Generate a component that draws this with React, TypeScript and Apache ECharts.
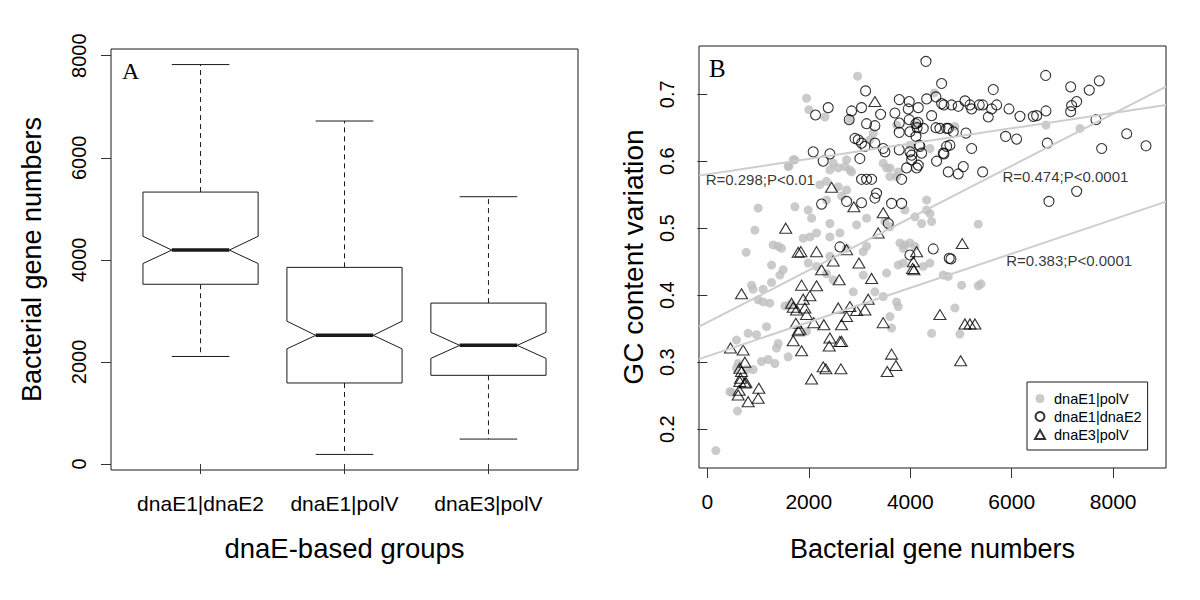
import React, { useEffect, useRef } from "react";
import * as echarts from "echarts";

// ---------- Panel A: notched box plot ----------
const groups = ["dnaE1|dnaE2", "dnaE1|polV", "dnaE3|polV"];
const whiskerLow = [2107, 188, 489];
const q1 = [3522, 1588, 1738];
const notchLow = [3928, 2257, 2069];
const median = [4191, 2521, 2325];
const notchHigh = [4462, 2799, 2581];
const q3 = [5328, 3853, 3153];
const whiskerHigh = [7826, 6720, 5237];
const boxTicks = [0, 2000, 4000, 6000, 8000];

// ---------- Panel B: scatter ----------
const polV: number[][] = [
  [2962, 0.727], [1956, 0.694], [2002, 0.677], [2317, 0.666], [2810, 0.662], [4473, 0.702], [4125, 0.654],
  [3731, 0.654], [3270, 0.642], [3204, 0.632], [3993, 0.624], [4388, 0.619],
  [1725, 0.602], [1607, 0.593], [1693, 0.602], [1594, 0.592], [2481, 0.597], [2580, 0.590], [2712, 0.592],
  [2810, 0.587], [2416, 0.587], [2745, 0.602], [2843, 0.584], [3467, 0.597], [3534, 0.590], [3600, 0.590],
  [3731, 0.577], [3599, 0.577], [3763, 0.584],
  [2218, 0.565], [2350, 0.570], [2580, 0.562], [2745, 0.557], [2650, 0.548],
  [4881, 0.652], [6675, 0.654], [7346, 0.649],
  [1002, 0.530], [1726, 0.532], [1988, 0.527], [2055, 0.515], [2350, 0.542], [2416, 0.507], [3139, 0.515],
  [2942, 0.505], [3895, 0.527], [4092, 0.517], [4323, 0.527], [4388, 0.522], [4224, 0.507], [4421, 0.510],
  [4323, 0.542], [3500, 0.510], [3599, 0.502], [5340, 0.506],
  [937, 0.497], [1397, 0.473], [1463, 0.470], [1298, 0.475], [1890, 0.485], [2022, 0.487], [2153, 0.493],
  [2416, 0.487], [2613, 0.493], [3139, 0.473], [3073, 0.465], [3797, 0.478], [3895, 0.475], [3993, 0.478],
  [4092, 0.473], [3862, 0.470], [2745, 0.470],
  [766, 0.464], [1266, 0.445], [1495, 0.438], [1988, 0.448], [2153, 0.443], [2416, 0.458], [3763, 0.445],
  [3862, 0.448], [4388, 0.448], [4256, 0.443], [4650, 0.430], [4749, 0.428], [3534, 0.433], [3073, 0.430],
  [5013, 0.415], [5340, 0.414], [5394, 0.417], [4881, 0.381], [4979, 0.342],
  [1430, 0.430], [2350, 0.432], [2481, 0.423], [2876, 0.405], [3303, 0.405], [3467, 0.398], [3731, 0.390],
  [3763, 0.383], [3599, 0.368], [3632, 0.351], [4421, 0.343],
  [872, 0.415], [903, 0.409], [1002, 0.393], [1100, 0.390], [1232, 0.388], [1100, 0.409], [1266, 0.419],
  [1528, 0.384], [1626, 0.386], [1167, 0.353], [805, 0.343], [970, 0.341], [576, 0.333], [1397, 0.328],
  [1364, 0.321], [1594, 0.308], [1331, 0.298], [1200, 0.304], [1069, 0.301], [1956, 0.346], [607, 0.298],
  [576, 0.291], [773, 0.289], [903, 0.289], [444, 0.256], [595, 0.227], [168, 0.168], [477, 0.255],
];

const dnaE2: number[][] = [
  [4309, 0.749], [3120, 0.705], [2383, 0.680], [2133, 0.669], [2843, 0.675], [3040, 0.680], [3415, 0.670],
  [3783, 0.692], [3980, 0.689], [4158, 0.680], [4323, 0.693], [4506, 0.696], [4618, 0.716], [4664, 0.684],
  [3697, 0.672], [3960, 0.678], [2797, 0.662], [3139, 0.656], [3303, 0.653], [3783, 0.657], [3980, 0.662],
  [4110, 0.656], [4135, 0.650], [4150, 0.658], [4256, 0.649], [4421, 0.668], [4506, 0.650], [4585, 0.649],
  [4717, 0.649], [3783, 0.643], [4112, 0.637], [3993, 0.644], [2910, 0.634], [2975, 0.632], [3040, 0.627],
  [3106, 0.622], [3303, 0.627], [3467, 0.619], [3501, 0.614], [4177, 0.624], [2087, 0.614], [2416, 0.611],
  [2284, 0.600], [3007, 0.604], [3783, 0.617], [3993, 0.614], [4027, 0.609], [4190, 0.622], [4224, 0.612],
  [4650, 0.612], [4717, 0.622], [4027, 0.602], [3928, 0.590], [4158, 0.594], [4125, 0.590], [4519, 0.600],
  [4749, 0.584], [3040, 0.573], [3139, 0.573], [3238, 0.573], [3830, 0.573], [3336, 0.552], [3303, 0.545],
  [2252, 0.536], [2745, 0.540], [3040, 0.538], [3632, 0.537], [3830, 0.537], [3566, 0.507], [2613, 0.472],
  [3993, 0.460], [4453, 0.469], [4769, 0.455], [4802, 0.454],
  [4618, 0.686], [4815, 0.684], [4946, 0.682], [5078, 0.690], [5177, 0.684], [5210, 0.678], [5360, 0.684],
  [5427, 0.684], [5604, 0.678], [5703, 0.684], [5538, 0.666], [5636, 0.707], [5946, 0.678], [6163, 0.667],
  [6425, 0.667], [6491, 0.668], [6675, 0.675], [6669, 0.728], [7162, 0.711], [7529, 0.706], [7726, 0.720],
  [7280, 0.689], [7181, 0.683], [7162, 0.674], [7661, 0.662], [8266, 0.641], [7773, 0.619], [8647, 0.623],
  [6701, 0.627], [5880, 0.637], [6097, 0.633], [4749, 0.649], [4848, 0.644], [5098, 0.642], [4782, 0.624],
  [4664, 0.611], [5210, 0.619], [4946, 0.581], [5045, 0.592], [5427, 0.584], [7280, 0.555], [6734, 0.540],
];

const dnaE3: number[][] = [
  [3303, 0.689], [2449, 0.561], [2889, 0.532], [3467, 0.523], [1545, 0.500], [3368, 0.493], [1791, 0.464],
  [1844, 0.465], [2153, 0.465], [2745, 0.468], [2481, 0.451], [2988, 0.448], [2252, 0.438], [2599, 0.423],
  [3238, 0.425], [1858, 0.415], [2153, 0.414], [2022, 0.399], [1890, 0.394], [674, 0.402], [1660, 0.388],
  [1693, 0.382], [1759, 0.378], [1923, 0.381], [1956, 0.371], [2580, 0.381], [2810, 0.383], [2942, 0.377],
  [3106, 0.378], [3171, 0.394], [2745, 0.368], [2646, 0.356], [2297, 0.356], [2100, 0.359], [3467, 0.359],
  [1745, 0.358], [1824, 0.349], [1791, 0.347], [1693, 0.332], [1858, 0.317], [2416, 0.336], [2403, 0.324],
  [2613, 0.331], [2646, 0.331], [2284, 0.293], [2337, 0.290], [2633, 0.290], [2055, 0.275], [3632, 0.312],
  [3717, 0.295], [3546, 0.286], [4125, 0.465], [4060, 0.450], [4047, 0.440], [4073, 0.438], [4585, 0.371],
  [5025, 0.477], [5078, 0.357], [5177, 0.357], [5275, 0.357], [4993, 0.302], [457, 0.321], [706, 0.318],
  [740, 0.300], [641, 0.291], [674, 0.286], [654, 0.276], [759, 0.270], [627, 0.258], [608, 0.251],
  [1016, 0.261], [1002, 0.246], [805, 0.241], [740, 0.269], [641, 0.271],
];

const xTicksB = [0, 2000, 4000, 6000, 8000];
const yTicksB = [0.2, 0.3, 0.4, 0.5, 0.6, 0.7];

// regression lines (endpoints at the plot's x limits)
const fitX = [-164, 9041];
const fitE2 = [0.5785, 0.684];
const fitPolV = [0.353, 0.7113];
const fitE3 = [0.3045, 0.5397];

const annotations = [
  { name: "R=0.298;P<0.01", value: [1044, 0.572] },
  { name: "R=0.474;P<0.0001", value: [7057, 0.577] },
  { name: "R=0.383;P<0.0001", value: [7131, 0.4512] },
];

const SANS = '"Liberation Sans", Arial, Helvetica, sans-serif';
const SERIF = '"Liberation Serif", "Times New Roman", serif';

export default function App() {
  const ref = useRef<HTMLDivElement>(null);

  useEffect(() => {
    document.body.style.margin = "0";
    const chart = echarts.init(ref.current!, null, { renderer: "svg" });

    const boxData = groups.map((_, i) => [
      i + 1, whiskerLow[i], q1[i], notchLow[i], median[i], notchHigh[i], q3[i], whiskerHigh[i],
    ]);
    const BW = 0.4;
    const NW = 0.2;
    const stroke = "#1a1a1a";

    const fitLine = (ys: number[]) => ({
      type: "line",
      xAxisIndex: 1,
      yAxisIndex: 1,
      data: fitX.map((x, i) => [x, ys[i]]),
      symbol: "none",
      silent: true,
      lineStyle: { color: "#cdcdcd", width: 2 },
      z: 5,
    });

    const tickStyle = { lineStyle: { color: "#333", width: 1 } };
    const plain = (v: number) => String(v);

    chart.setOption({
      animation: false,
      textStyle: { fontFamily: SANS },
      grid: [
        { left: 111, top: 49, width: 467, height: 421, show: true, borderColor: stroke, borderWidth: 1, backgroundColor: "transparent" },
        { left: 699, top: 46, width: 467, height: 422, show: true, borderColor: stroke, borderWidth: 1, backgroundColor: "transparent" },
      ],
      xAxis: [
        {
          gridIndex: 0, type: "value", min: 0.378, max: 3.622,
          axisLine: { show: false }, splitLine: { show: false },
          axisTick: { show: true, length: 10, customValues: [1, 2, 3], ...tickStyle },
          axisLabel: {
            customValues: [1, 2, 3], margin: 23, fontSize: 21, color: "#000", fontFamily: SANS,
            formatter: (v: number) => groups[Math.round(v) - 1] ?? "",
          },
          name: "dnaE-based groups", nameLocation: "middle", nameGap: 64,
          nameTextStyle: { fontSize: 27.5, color: "#000", fontFamily: SANS },
        },
        {
          gridIndex: 1, type: "value", min: -164, max: 9041,
          axisLine: { show: false }, splitLine: { show: false },
          axisTick: { show: true, length: 10, customValues: xTicksB, ...tickStyle },
          axisLabel: { customValues: xTicksB, margin: 23, fontSize: 21, color: "#000", fontFamily: SANS, formatter: plain },
          name: "Bacterial gene numbers", nameLocation: "middle", nameGap: 67,
          nameTextStyle: { fontSize: 27, color: "#000", fontFamily: SANS },
        },
      ],
      yAxis: [
        {
          gridIndex: 0, type: "value", min: -117, max: 8131,
          axisLine: { show: false }, splitLine: { show: false },
          axisTick: { show: true, length: 10, customValues: boxTicks, ...tickStyle },
          axisLabel: { customValues: boxTicks, rotate: 90, margin: 22, fontSize: 20, color: "#000", fontFamily: SANS, formatter: plain },
          name: "Bacterial gene numbers", nameLocation: "middle", nameGap: 66, nameRotate: 90,
          nameTextStyle: { fontSize: 27, color: "#000", fontFamily: SANS },
        },
        {
          gridIndex: 1, type: "value", min: 0.142, max: 0.772,
          axisLine: { show: false }, splitLine: { show: false },
          axisTick: { show: true, length: 10, customValues: yTicksB, ...tickStyle },
          axisLabel: {
            customValues: yTicksB, rotate: 90, margin: 22, fontSize: 20, color: "#000", fontFamily: SANS,
            formatter: (v: number) => v.toFixed(1),
          },
          name: "GC content variation", nameLocation: "middle", nameGap: 52, nameRotate: 90,
          nameTextStyle: { fontSize: 28, color: "#000", fontFamily: SANS },
        },
      ],
      legend: {
        orient: "vertical",
        left: 1027,
        top: 382,
        padding: [9, 6, 8, 7],
        itemGap: 3,
        itemWidth: 10,
        itemHeight: 9,
        borderColor: stroke,
        borderWidth: 1,
        backgroundColor: "#fff",
        textStyle: { fontSize: 14.5, color: "#000", fontFamily: SANS, padding: [0, 0, 0, 4] },
        data: ["dnaE1|polV", "dnaE1|dnaE2", "dnaE3|polV"],
      },
      graphic: [
        { type: "text", left: 122, top: 59, style: { text: "A", font: `24px ${SERIF}`, fill: "#000" } },
        { type: "text", left: 709, top: 56, style: { text: "B", font: `25px ${SERIF}`, fill: "#000" } },
      ],
      series: [
        {
          type: "custom",
          xAxisIndex: 0,
          yAxisIndex: 0,
          data: boxData,
          encode: { x: 0, y: [1, 2, 3, 4, 5, 6, 7] },
          silent: true,
          renderItem: (_params: any, api: any) => {
            const x = api.value(0);
            const wl = api.value(1), a = api.value(2), nl = api.value(3), md = api.value(4);
            const nh = api.value(5), b = api.value(6), wh = api.value(7);
            const c = (dx: number, v: number) => api.coord([x + dx, v]);
            const seg = (p1: number[], p2: number[], style: any) => ({
              type: "line",
              shape: { x1: p1[0], y1: p1[1], x2: p2[0], y2: p2[1] },
              style: { stroke, lineWidth: 1, ...style },
            });
            const poly = [
              c(-BW, a), c(BW, a), c(BW, nl), c(NW, md), c(BW, nh), c(BW, b),
              c(-BW, b), c(-BW, nh), c(-NW, md), c(-BW, nl),
            ];
            return {
              type: "group",
              children: [
                seg(c(0, b), c(0, wh), { lineDash: [5, 4] }),
                seg(c(0, a), c(0, wl), { lineDash: [5, 4] }),
                seg(c(-NW, wh), c(NW, wh), {}),
                seg(c(-NW, wl), c(NW, wl), {}),
                { type: "polygon", shape: { points: poly }, style: { fill: "#fff", stroke, lineWidth: 1 } },
                seg(c(-NW, md), c(NW, md), { lineWidth: 3.5 }),
              ],
            };
          },
        },
        {
          name: "dnaE1|polV",
          type: "scatter",
          xAxisIndex: 1,
          yAxisIndex: 1,
          data: polV,
          symbol: "circle",
          symbolSize: 9,
          itemStyle: { color: "#bebebe" },
          silent: true,
        },
        {
          name: "dnaE1|dnaE2",
          type: "scatter",
          xAxisIndex: 1,
          yAxisIndex: 1,
          data: dnaE2,
          symbol: "circle",
          symbolSize: 10,
          itemStyle: { color: "rgba(255,255,255,0)", borderColor: "#000", borderWidth: 1.1 },
          silent: true,
        },
        {
          name: "dnaE3|polV",
          type: "scatter",
          xAxisIndex: 1,
          yAxisIndex: 1,
          data: dnaE3,
          symbol: "triangle",
          symbolSize: [12, 10],
          itemStyle: { color: "rgba(255,255,255,0)", borderColor: "#000", borderWidth: 1.1 },
          silent: true,
        },
        fitLine(fitE2),
        fitLine(fitPolV),
        fitLine(fitE3),
        {
          type: "scatter",
          xAxisIndex: 1,
          yAxisIndex: 1,
          data: annotations,
          symbolSize: 1,
          itemStyle: { color: "rgba(0,0,0,0)" },
          silent: true,
          z: 6,
          label: {
            show: true,
            position: "inside",
            formatter: "{b}",
            color: "#000",
            fontSize: 15,
            fontFamily: SANS,
          },
        },
      ],
    });

    return () => chart.dispose();
  }, []);

  return (
    <div
      ref={ref}
      style={{ position: "fixed", left: 0, top: 0, width: 1200, height: 600, background: "#fff" }}
    />
  );
}
